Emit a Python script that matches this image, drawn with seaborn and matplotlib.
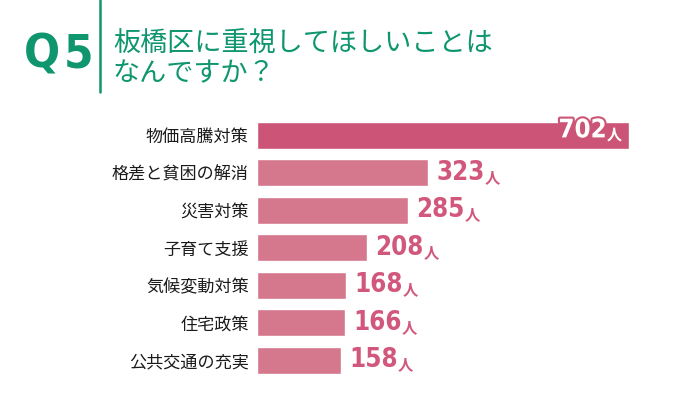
import matplotlib
matplotlib.use("Agg")
import matplotlib.pyplot as plt
import matplotlib.patheffects as pe
import seaborn as sns
import pandas as pd

# ── Data ──────────────────────────────────────────────────────────────────────
categories = ["物価高騰対策", "格差と貧困の解消", "災害対策", "子育て支援",
              "気候変動対策", "住宅政策", "公共交通の充実"]
counts = [702, 323, 285, 208, 168, 166, 158]
unit = "人"
q_letters = ["Q", "5"]
question = "板橋区に重視してほしいことは\nなんですか？"

GREEN = "#10966f"
TOP_PINK = "#cc5577"
PINK = "#d5788e"
NUM_PINK = "#d1587c"

sns.set_theme(style="white")
plt.rcParams["font.family"] = ["Noto Sans CJK JP", "DejaVu Sans"]

df = pd.DataFrame({"item": categories, "count": counts})

fig = plt.figure(figsize=(6.76, 3.95), dpi=100)
W, H = 676, 395
ax = fig.add_axes([257 / W, 1 - 379 / H, (629 - 257) / W, 262.5 / H])

palette = [TOP_PINK] + [PINK] * (len(categories) - 1)
sns.barplot(data=df, y="item", x="count", hue="item", palette=palette,
            legend=False, width=0.73, saturation=1, ax=ax)
ax.set_xlim(0, counts[0])
ax.set_ylim(len(categories) - 0.5, -0.5)
ax.set_xlabel("")
ax.set_ylabel("")
ax.set_xticks([])
sns.despine(ax=ax, left=True, bottom=True)
ax.tick_params(axis="y", length=0, pad=6, labelsize=12.3, labelcolor="#1a1a1a")

# ── Value labels ──────────────────────────────────────────────────────────────
num_font = dict(family="DejaVu Sans", stretch="condensed", weight="bold")
outline = [pe.withStroke(linewidth=3, foreground=TOP_PINK)]
fig.canvas.draw()
renderer = fig.canvas.get_renderer()
for i, v in enumerate(counts):
    if i == 0:
        # top value sits inside the bar, raised a little, white with outline
        unit_t = ax.annotate(unit, (v, i), xytext=(-5, 0), textcoords="offset points",
                             ha="right", va="center", color="white", fontsize=11,
                             fontweight="bold", annotation_clip=False,
                             path_effects=outline)
        fig.canvas.draw()
        bb = unit_t.get_window_extent(renderer)
        x0 = ax.transData.inverted().transform((bb.x0, 0))[0]
        ax.annotate(str(v), (x0, i), xytext=(0, 3.5), textcoords="offset points",
                    ha="right", va="center", color="white", fontsize=18.5,
                    annotation_clip=False, path_effects=outline, **num_font)
    else:
        num_t = ax.annotate(str(v), (v, i), xytext=(6, 0), textcoords="offset points",
                            ha="left", va="center", color=NUM_PINK, fontsize=18.5,
                            annotation_clip=False, **num_font)
        fig.canvas.draw()
        bb = num_t.get_window_extent(renderer)
        x1 = ax.transData.inverted().transform((bb.x1, 0))[0]
        ax.annotate(unit, (x1, i), xytext=(0, -3), textcoords="offset points",
                    ha="left", va="center", color=NUM_PINK, fontsize=11,
                    fontweight="bold", annotation_clip=False)

# ── Header ────────────────────────────────────────────────────────────────────
fig.text(24 / W, 1 - 68 / H, q_letters[0], color=GREEN, fontsize=34,
         va="baseline", ha="left", **num_font)
fig.text(64 / W, 1 - 68 / H, q_letters[1], color=GREEN, fontsize=34,
         va="baseline", ha="left", **num_font)
fig.add_artist(plt.Line2D([100 / W, 100 / W], [1 - 92 / H, 1], color=GREEN, lw=1.8))
fig.text(113 / W, 1 - 59 / H, question, color=GREEN, fontsize=19.5, va="center",
         ha="left", linespacing=1.12)

fig.savefig("out.png", dpi=100)
